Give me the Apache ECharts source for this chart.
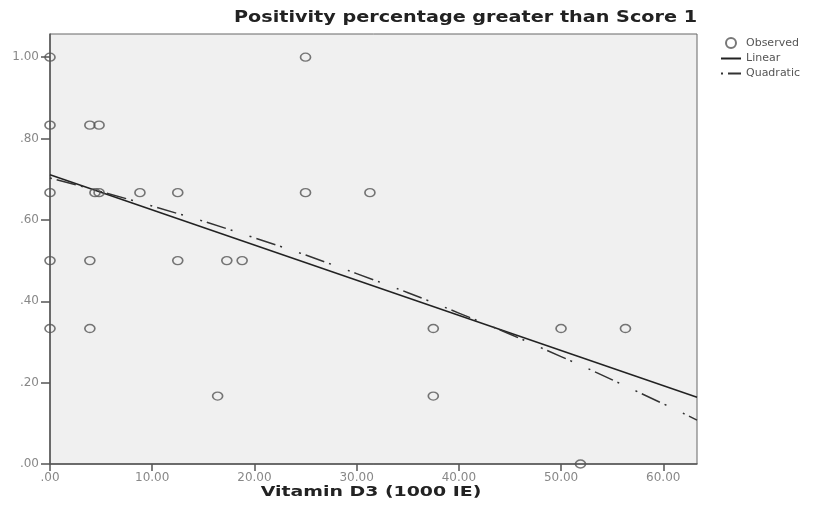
<!DOCTYPE html>
<html>
<head>
<meta charset="utf-8">
<script src="https://cdn.jsdelivr.net/npm/echarts@6/dist/echarts.min.js"></script>
<style>html,body{margin:0;padding:0;background:#fff}#c{width:814px;height:511px}</style>
</head>
<body>
<div id="c"></div>
<script>
// Observed points
var obsX = [0, 0, 0, 0, 0, 3.9, 4.8, 4.4, 4.8, 8.8, 12.5, 25, 31.3, 25, 3.9, 12.5, 17.3, 18.8, 3.9, 37.5, 50, 56.3, 16.4, 37.5, 51.9];
var obsY = [1.0, 0.833, 0.667, 0.5, 0.333, 0.833, 0.833, 0.667, 0.667, 0.667, 0.667, 0.667, 0.667, 1.0, 0.5, 0.5, 0.5, 0.5, 0.333, 0.333, 0.333, 0.333, 0.167, 0.167, 0];
// Linear fit (at its ends)
var linX = [0, 63.3];
var linY = [0.711, 0.164];
// Quadratic fit
var quadX = [0, 10, 20, 30, 40, 50, 60, 63.3];
var quadY = [0.703, 0.634, 0.556, 0.468, 0.371, 0.264, 0.148, 0.108];
// Axis ticks
var xTicks = [0, 10, 20, 30, 40, 50, 60];
var yTicks = [0, 0.2, 0.4, 0.6, 0.8, 1.0];
// Texts
var titleText = 'Positivity percentage greater than Score 1';
var xName = 'Vitamin D3 (1000 IE)';

function zip(a, b) { return a.map(function (v, i) { return [v, b[i]]; }); }
function fmt(v) { var s = Number(v).toFixed(2); return s.charAt(0) === '0' ? s.slice(1) : s; }

var chart = echarts.init(document.getElementById('c'), null, {renderer: 'canvas'});
chart.setOption({
  animation: false,
  backgroundColor: '#ffffff',
  graphic: [
    {
      type: 'text', x: 697, y: 18, scaleX: 1.28,
      style: {text: titleText, textAlign: 'right', textVerticalAlign: 'middle',
              font: 'bold 15px "DejaVu Sans"', fill: '#222'}
    },
    {
      type: 'text', x: 371, y: 492, scaleX: 1.4,
      style: {text: xName, textAlign: 'center', textVerticalAlign: 'middle',
              font: 'bold 13.5px "DejaVu Sans"', fill: '#222'}
    }
  ],
  legend: {
    orient: 'vertical', left: 715, top: 32,
    itemWidth: 20, itemHeight: 10, itemGap: 4,
    textStyle: {fontFamily: 'DejaVu Sans', fontSize: 11, color: '#555'},
    data: [
      {name: 'Observed'},
      {name: 'Linear', itemStyle: {opacity: 0}},
      {name: 'Quadratic', itemStyle: {opacity: 0}}
    ]
  },
  grid: {
    left: 50, right: 117, top: 34, bottom: 47,
    show: true, backgroundColor: '#f0f0f0', borderColor: '#666', borderWidth: 1
  },
  xAxis: {
    type: 'value', min: 0, max: 63.3,
    axisLine: {show: true, lineStyle: {color: '#555', width: 1.5}},
    axisTick: {show: true, length: 7, lineStyle: {color: '#555', width: 1.5}, customValues: xTicks},
    axisLabel: {customValues: xTicks, formatter: fmt, margin: 8, fontFamily: 'DejaVu Sans', fontSize: 12, color: '#888'},
    splitLine: {show: false}
  },
  yAxis: {
    type: 'value', min: 0, max: 1.057,
    axisLine: {show: true, lineStyle: {color: '#555', width: 1.5}},
    axisTick: {show: true, length: 9, lineStyle: {color: '#555', width: 1.5}, customValues: yTicks},
    axisLabel: {customValues: yTicks, formatter: fmt, margin: 11, fontFamily: 'DejaVu Sans', fontSize: 12, color: '#888'},
    splitLine: {show: false}
  },
  series: [
    {
      name: 'Observed', type: 'scatter', symbol: 'circle', symbolSize: [10, 8],
      itemStyle: {color: 'rgba(240,240,240,0)', borderColor: '#555', borderWidth: 1.5},
      data: zip(obsX, obsY), z: 3
    },
    {
      name: 'Linear', type: 'line', symbol: 'none',
      lineStyle: {color: '#222', width: 1.5},
      itemStyle: {color: '#222'},
      data: zip(linX, linY), z: 2
    },
    {
      name: 'Quadratic', type: 'line', symbol: 'none', smooth: true,
      lineStyle: {color: '#333', width: 1.5, type: [2, 5, 20, 5, 2, 18]},
      itemStyle: {color: '#333'},
      data: zip(quadX, quadY), z: 2
    }
  ]
});
</script>
</body>
</html>
